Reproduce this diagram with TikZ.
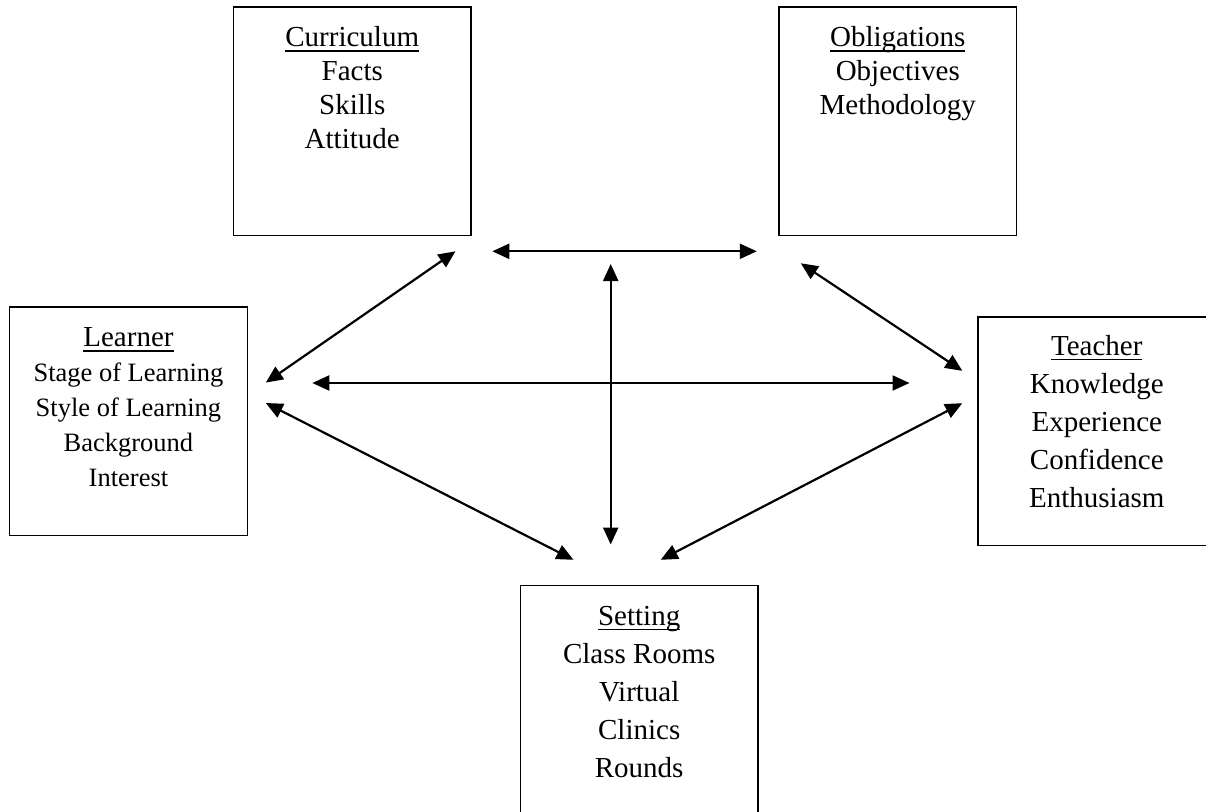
\documentclass[tikz,border=0pt]{standalone}
\usepackage{fontspec}
\setmainfont{Liberation Serif}
\usetikzlibrary{arrows.meta}
% heading with a rule set just under the baseline
\newcommand\headword[1]{\setbox0\hbox{#1}\rlap{\rule[-5.3pt]{\wd0}{1.8pt}}\box0}
\begin{document}
\begin{tikzpicture}[x=1pt,y=-1pt,
  box/.style={draw=black, line width=1.5pt, inner sep=0pt, outer sep=0pt},
  entry/.style={font=\fontsize{29pt}{34pt}\selectfont, anchor=base, inner sep=0pt},
  smallentry/.style={font=\fontsize{26.5pt}{32pt}\selectfont, anchor=base, inner sep=0pt},
  link/.style={line width=2.2pt, {Triangle[length=17pt,width=15pt]}-{Triangle[length=17pt,width=15pt]}}
]
\useasboundingbox (0,0) rectangle (1206,811);
\clip (0,0) rectangle (1206,811);

% ---- boxes
\node[box, minimum width=237.5pt, minimum height=228.6pt] (cur) at (352.25,121.3) {};
\node[box, minimum width=237.5pt, minimum height=228.6pt] (obl) at (897.75,121.3) {};
\node[box, minimum width=237.7pt, minimum height=228.7pt] (lea) at (128.45,421.35) {};
\node[box, minimum width=237.6pt, minimum height=228.6pt] (tea) at (1096.8,431.3) {};
\node[box, minimum width=237.6pt, minimum height=228.6pt] (set) at (639.2,700) {};

% ---- Curriculum
\node[entry] (cur-h) at (352.25,46.7) {\headword{Curriculum}};
\foreach \w [count=\k from 0] in {Facts,Skills,Attitude}
  \node[entry] (cur-\k) at (352.25,80.7+34*\k) {\w};

% ---- Obligations
\node[entry] (obl-h) at (897.75,46.7) {\headword{Obligations}};
\foreach \w [count=\k from 0] in {Objectives,Methodology}
  \node[entry] (obl-\k) at (897.75,80.7+34*\k) {\w};

% ---- Learner
\node[entry] (lea-h) at (128.45,346.5) {\headword{Learner}};
\foreach \w [count=\k from 0] in {Stage of Learning,Style of Learning,Background,Interest}
  \node[smallentry] (lea-\k) at (128.45,381.5+35*\k) {\w};

% ---- Teacher
\node[entry] (tea-h) at (1096.8,355) {\headword{Teacher}};
\foreach \w [count=\k from 0] in {Knowledge,Experience,Confidence,Enthusiasm}
  \node[entry] (tea-\k) at (1096.8,393+38*\k) {\w};

% ---- Setting
\node[entry] (set-h) at (639.2,625) {\headword{Setting}};
\foreach \w [count=\k from 0] in {Class Rooms,Virtual,Clinics,Rounds}
  \node[entry] (set-\k) at (639.2,663+38*\k) {\w};

% ---- arrow ends
\coordinate (t1) at (492.3,251.3);  \coordinate (t2) at (756.8,251.3);
\coordinate (v1) at (610.7,264);    \coordinate (v2) at (610.7,544.5);
\coordinate (m1) at (312.3,383);    \coordinate (m2) at (909.5,383);
\coordinate (cl1) at (455.5,251.3); \coordinate (cl2) at (265.8,382.6);
\coordinate (ot1) at (800.8,263.3); \coordinate (ot2) at (962.3,370.8);
\coordinate (ls1) at (265.8,403);   \coordinate (ls2) at (573.5,559.8);
\coordinate (ts1) at (962.3,403.2); \coordinate (ts2) at (660.7,559.8);

% ---- double-headed arrows
\draw[link] (t1) -- (t2);
\draw[link] (v1) -- (v2);
\draw[link] (m1) -- (m2);
\draw[link] (cl1) -- (cl2);
\draw[link] (ot1) -- (ot2);
\draw[link] (ls1) -- (ls2);
\draw[link] (ts1) -- (ts2);
\end{tikzpicture}
\end{document}
